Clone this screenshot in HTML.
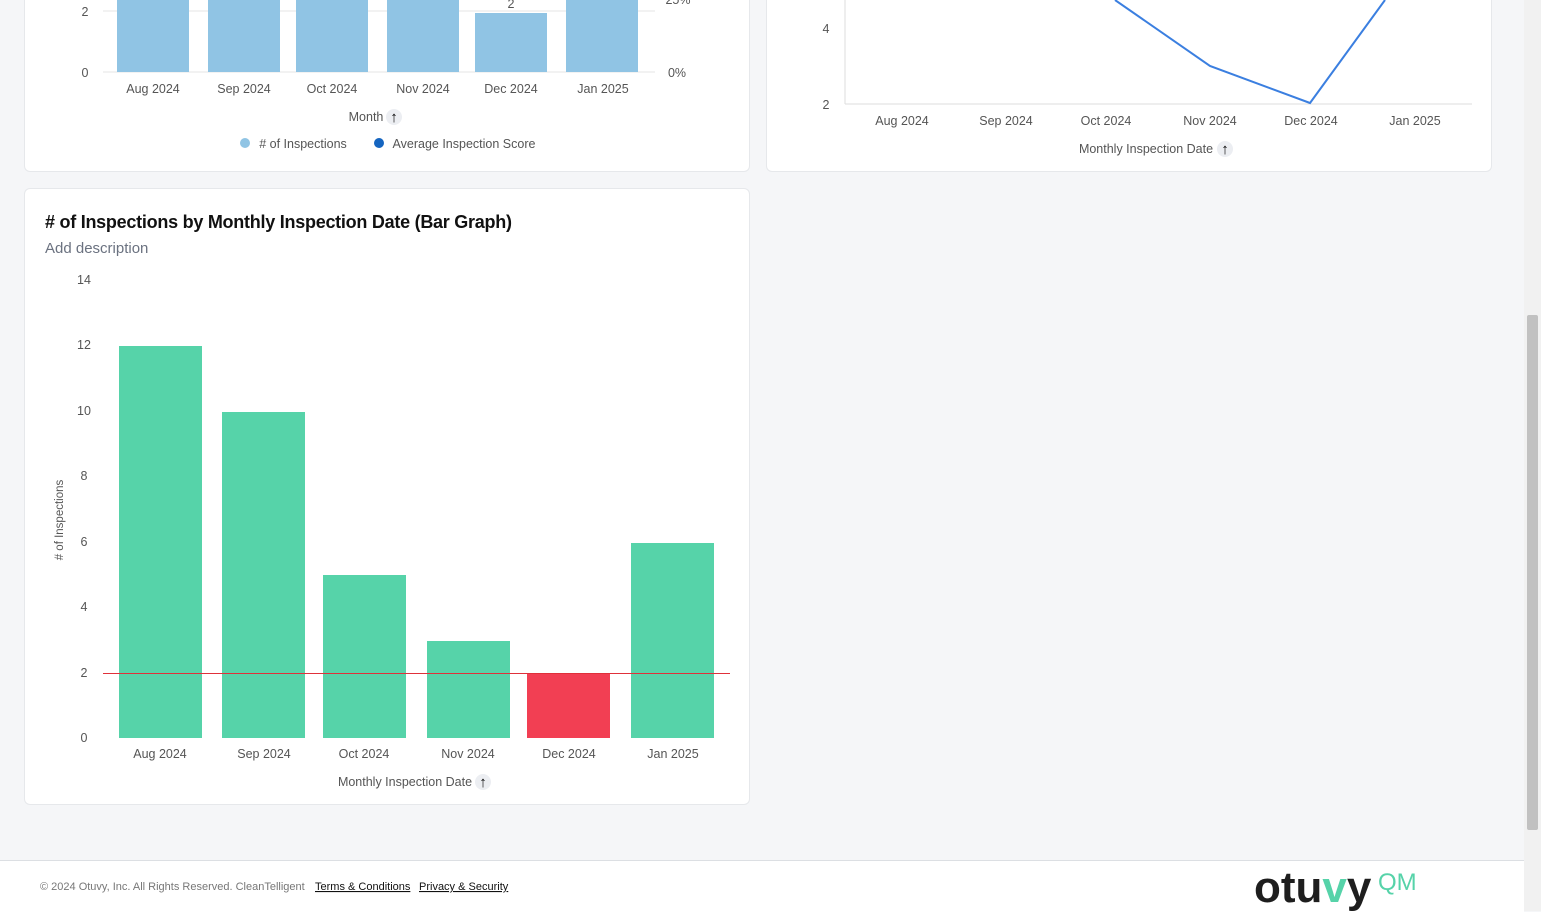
<!DOCTYPE html>
<html><head><style>
body{margin:0;width:1541px;height:911px;background:#f5f6f8;font-family:"Liberation Sans",sans-serif;position:relative;overflow:hidden}
.card{position:absolute;background:#fff;border:1px solid #e6e8eb;border-radius:6px}
svg text{font-family:"Liberation Sans",sans-serif}
</style></head><body>
<div class="card" style="left:24px;top:-10px;width:724px;height:180px"></div>
<div class="card" style="left:766px;top:-10px;width:724px;height:180px"></div>
<div class="card" style="left:24px;top:188px;width:724px;height:615px"></div>
<div style="position:absolute;left:0;top:860px;width:1524px;height:51px;background:#fff;border-top:1px solid #dcdfe3"></div>
<div style="position:absolute;left:1524px;top:0;width:17px;height:911px;background:#f1f1f1"></div>
<div style="position:absolute;left:1527px;top:315px;width:11px;height:515px;background:#c1c1c1;border-radius:2px"></div>
<svg width="1541" height="911" style="position:absolute;left:0;top:0">
<g fill="#555" font-size="12.5" text-anchor="middle">
<line x1="103" y1="11" x2="655" y2="11" stroke="#e5e5e5"/>
<line x1="103" y1="72" x2="655" y2="72" stroke="#e5e5e5"/>
<g fill="#90c4e4">
<rect x="117" y="0" width="72" height="72"/><rect x="208" y="0" width="72" height="72"/><rect x="296" y="0" width="72" height="72"/><rect x="387" y="0" width="72" height="72"/><rect x="475" y="13" width="72" height="59"/><rect x="566" y="0" width="72" height="72"/></g>
<text x="85" y="16">2</text><text x="85" y="77">0</text>
<text x="511" y="8">2</text>
<text x="678" y="4">25%</text><text x="677" y="77">0%</text>
<text x="153" y="93">Aug 2024</text><text x="244" y="93">Sep 2024</text><text x="332" y="93">Oct 2024</text><text x="423" y="93">Nov 2024</text><text x="511" y="93">Dec 2024</text><text x="603" y="93">Jan 2025</text>
<text x="366" y="121">Month</text>
<circle cx="394" cy="117" r="8" fill="#eceef2"/><text x="394" y="122" fill="#000" font-weight="bold" font-size="15">↑</text>
<circle cx="245" cy="143" r="5" fill="#90c4e4"/><text x="303" y="148">#&#160;of Inspections</text>
<circle cx="379" cy="143" r="5" fill="#1565c0"/><text x="464" y="148">Average Inspection Score</text>
<line x1="845" y1="0" x2="845" y2="104" stroke="#ddd"/>
<line x1="845" y1="104" x2="1472" y2="104" stroke="#ddd"/>
<text x="826" y="33">4</text><text x="826" y="109">2</text>
<polyline points="1115,0 1210,66 1310,103 1385,0" fill="none" stroke="#3b7fe0" stroke-width="2"/>
<text x="902" y="125">Aug 2024</text><text x="1006" y="125">Sep 2024</text><text x="1106" y="125">Oct 2024</text><text x="1210" y="125">Nov 2024</text><text x="1311" y="125">Dec 2024</text><text x="1415" y="125">Jan 2025</text>
<text x="1146" y="153">Monthly Inspection Date</text>
<circle cx="1225" cy="149" r="8" fill="#eceef2"/><text x="1225" y="154" fill="#000" font-weight="bold" font-size="15">↑</text>
<text x="84" y="284">14</text><text x="84" y="349">12</text><text x="84" y="415">10</text><text x="84" y="480">8</text><text x="84" y="546">6</text><text x="84" y="611">4</text><text x="84" y="677">2</text><text x="84" y="742">0</text>
<text transform="translate(63,520) rotate(-90)" font-size="11.5">#&#160;of Inspections</text>
<g fill="#56d3a9"><rect x="119" y="346" width="83" height="392"/><rect x="222" y="412" width="83" height="326"/><rect x="323" y="575" width="83" height="163"/><rect x="427" y="641" width="83" height="97"/><rect x="631" y="543" width="83" height="195"/></g>
<rect x="527" y="673" width="83" height="65" fill="#f23f53"/>
<rect x="103" y="673" width="627" height="1" fill="#e0303a"/>
<text x="160" y="758">Aug 2024</text><text x="264" y="758">Sep 2024</text><text x="364" y="758">Oct 2024</text><text x="468" y="758">Nov 2024</text><text x="569" y="758">Dec 2024</text><text x="673" y="758">Jan 2025</text>
<text x="405" y="786">Monthly Inspection Date</text>
<circle cx="483" cy="782" r="8" fill="#eceef2"/><text x="483" y="787" fill="#000" font-weight="bold" font-size="15">↑</text>
</g>
<text x="45" y="228" font-size="18" font-weight="bold" fill="#111" textLength="467">#&#160;of Inspections by Monthly Inspection Date (Bar Graph)</text>
<text x="45" y="253" font-size="15" fill="#6b7280">Add description</text>
<text x="40" y="890" font-size="11" fill="#777">© 2024 Otuvy, Inc. All Rights Reserved. CleanTelligent</text>
<text x="315" y="890" font-size="11" fill="#111" text-decoration="underline">Terms &amp; Conditions</text>
<text x="419" y="890" font-size="11" fill="#111" text-decoration="underline">Privacy &amp; Security</text>
<text x="1254" y="902" font-size="44" font-weight="bold" fill="#1e1e1e">otu<tspan fill="#56d3a9">v</tspan>y</text>
<text x="1378" y="890" font-size="24" fill="#56d3a9">QM</text>
</svg>
</body></html>
